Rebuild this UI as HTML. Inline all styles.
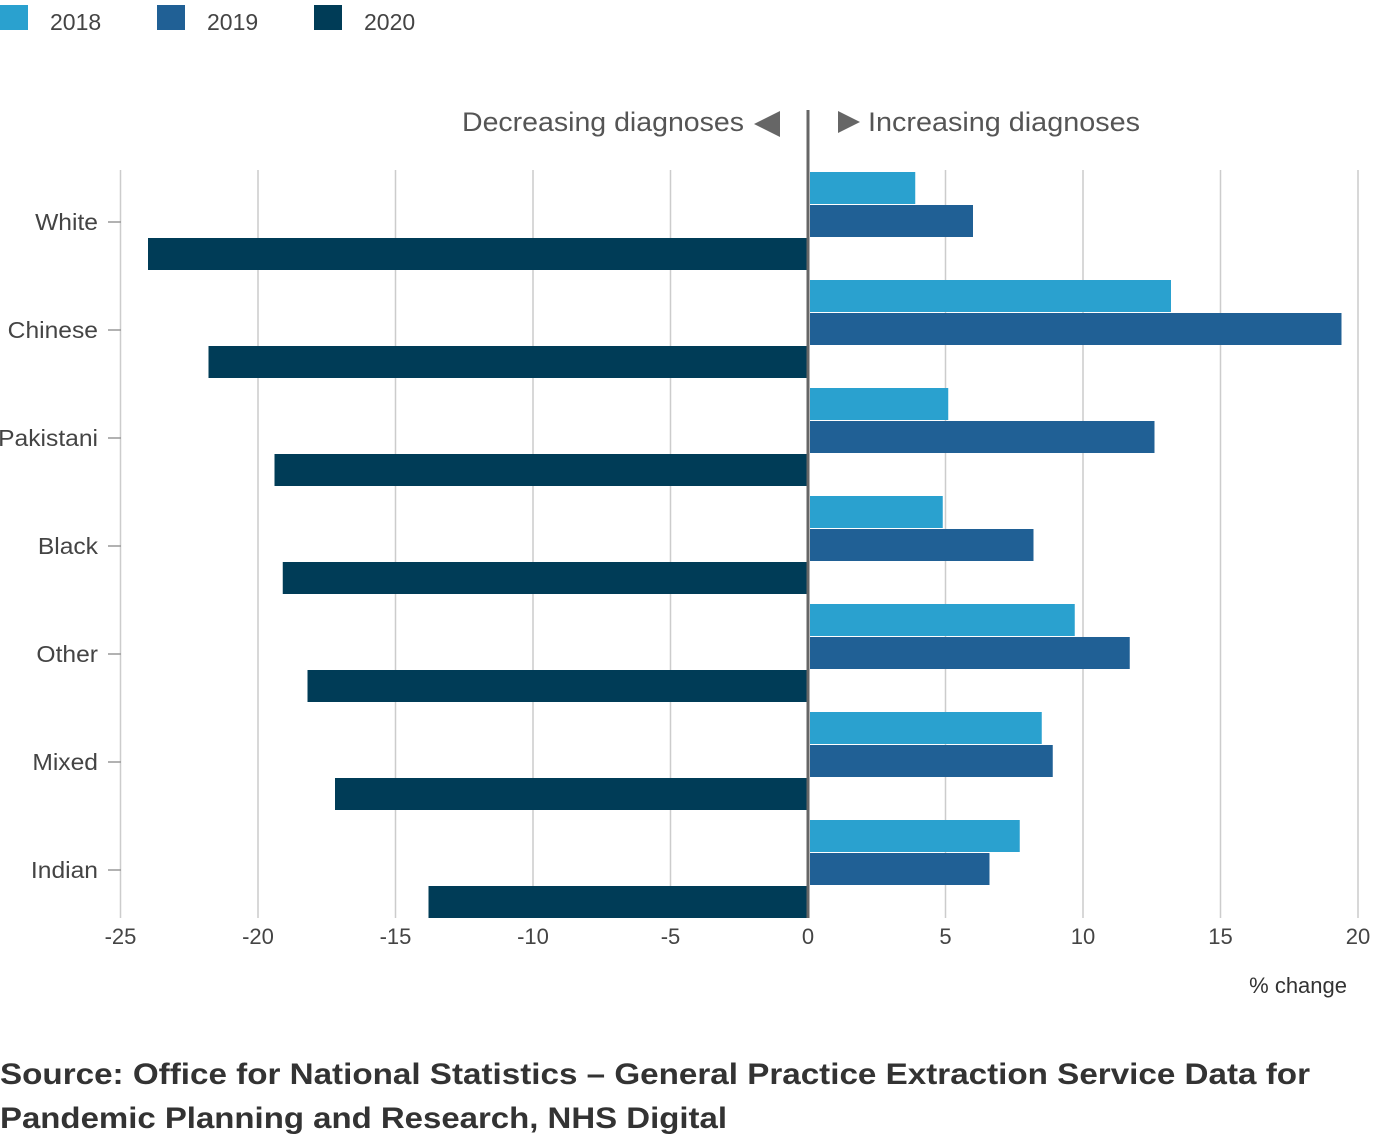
<!DOCTYPE html>
<html><head><meta charset="utf-8"><style>
body{margin:0;background:#fff;width:1374px;height:1138px;overflow:hidden;font-family:"Liberation Sans",sans-serif}
svg text{font-family:"Liberation Sans",sans-serif}
</style></head><body>
<svg id="chart" width="1374" height="1138" xmlns="http://www.w3.org/2000/svg">
<g id="legend"></g>
<g id="grid"></g>
<g id="bars"></g>
<g id="axes"></g>
<text x="462" y="131" textLength="282" lengthAdjust="spacingAndGlyphs" font-size="27" fill="#555">Decreasing diagnoses</text>
<polygon points="754,124 780,111 780,137" fill="#666"/>
<polygon points="838,111 860,122 838,133" fill="#666"/>
<text x="868" y="131" textLength="272" lengthAdjust="spacingAndGlyphs" font-size="27" fill="#555">Increasing diagnoses</text>
<text x="1347" y="993" text-anchor="end" font-size="22" fill="#333">% change</text>
<text x="0" y="1084" textLength="1310" lengthAdjust="spacingAndGlyphs" font-size="30" font-weight="bold" fill="#333">Source: Office for National Statistics – General Practice Extraction Service Data for</text>
<text x="0" y="1128" textLength="727" lengthAdjust="spacingAndGlyphs" font-size="30" font-weight="bold" fill="#333">Pandemic Planning and Research, NHS Digital</text>
</svg>
<script>
const categories=["White","Chinese","Pakistani","Black","Other","Mixed","Indian"];
const s2018=[3.9,13.2,5.1,4.9,9.7,8.5,7.7];
const s2019=[6.0,19.4,12.6,8.2,11.7,8.9,6.6];
const s2020=[-24.0,-21.8,-19.4,-19.1,-18.2,-17.2,-13.8];
const xTicks=[-25,-20,-15,-10,-5,0,5,10,15,20];
const seriesNames=["2018","2019","2020"];
const colors=["#2aa1cf","#206095","#003c57"];
const NS="http://www.w3.org/2000/svg";
const x=v=>808+v*27.5;
const yc=i=>222+i*108;
function mk(tag,attrs,parent,txt){const e=document.createElementNS(NS,tag);for(const k in attrs)e.setAttribute(k,attrs[k]);if(txt!==undefined)e.textContent=txt;document.getElementById(parent).appendChild(e);return e;}
seriesNames.forEach((n,i)=>{
 const r=mk('rect',{x:i*157,y:5,width:28,height:25,fill:colors[i]},'legend');
 
 
 const t=mk('text',{x:i*157+50,y:30,'font-size':23,fill:'#444'},'legend',n);
 
 
});
xTicks.forEach(v=>{
 if(v!==0){const l=mk('line',{x1:x(v),x2:x(v),y1:170,y2:918,stroke:'#ccc','stroke-width':1.5},'grid');
 
 }
 const t=mk('text',{x:x(v),y:944,'text-anchor':'middle','font-size':22,fill:'#444'},'axes',String(v));
 
 
});
const series=[s2018,s2019,s2020];
categories.forEach((c,i)=>{
 series.forEach((s,j)=>{
  const v=s[i];const y0=yc(i)-50+j*33;
  const x0=v>=0?x(0)+2:x(v);const w=Math.abs(x(v)-x(0))-(v>=0?2:0);
  const b=mk('rect',{x:x0,y:y0,width:Math.max(0,w),height:32,fill:colors[j]},'bars');
  
  
 });
 const tk=mk('line',{x1:108,x2:121,y1:yc(i),y2:yc(i),stroke:'#999','stroke-width':1.5},'axes');
 
 
 const t=mk('text',{x:98,y:yc(i)+8,'text-anchor':'end','font-size':23,fill:'#444'},'axes',c);
 
 
 const w=t.getComputedTextLength()*1.07;
 t.setAttribute('textLength',w);
 t.setAttribute('lengthAdjust','spacingAndGlyphs');
});
const z=mk('line',{x1:x(0),x2:x(0),y1:110,y2:918,stroke:'#666','stroke-width':3},'axes');


</script>
</body></html>
